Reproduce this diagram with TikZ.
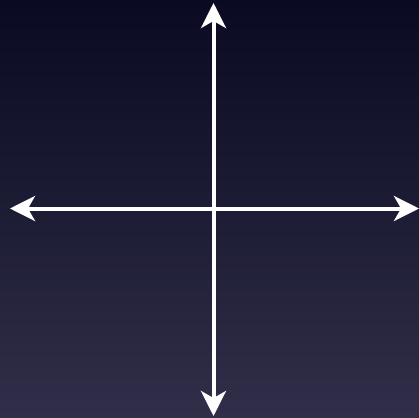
\documentclass[tikz,border=0pt]{standalone}
\usetikzlibrary{arrows.meta}
\definecolor{bgtop}{RGB}{10,10,34}
\definecolor{bgbot}{RGB}{48,46,72}
\tikzset{axisarrow/.style={draw=white,line width=4pt,{Stealth[length=25pt,width=25pt,inset=7pt]}-{Stealth[length=25pt,width=25pt,inset=7pt]}}}
\begin{document}
\begin{tikzpicture}[x=1pt,y=-1pt]
\shade[top color=bgtop,bottom color=bgbot] (0,0) rectangle (419,417);
\useasboundingbox (0,0) rectangle (419,417);
\coordinate (top) at (213.5,3);
\coordinate (bottom) at (213.5,416);
\coordinate (left) at (10,208.5);
\coordinate (right) at (419,208.5);
\draw[axisarrow] (top) -- (bottom);
\draw[axisarrow] (left) -- (right);
\end{tikzpicture}
\end{document}
